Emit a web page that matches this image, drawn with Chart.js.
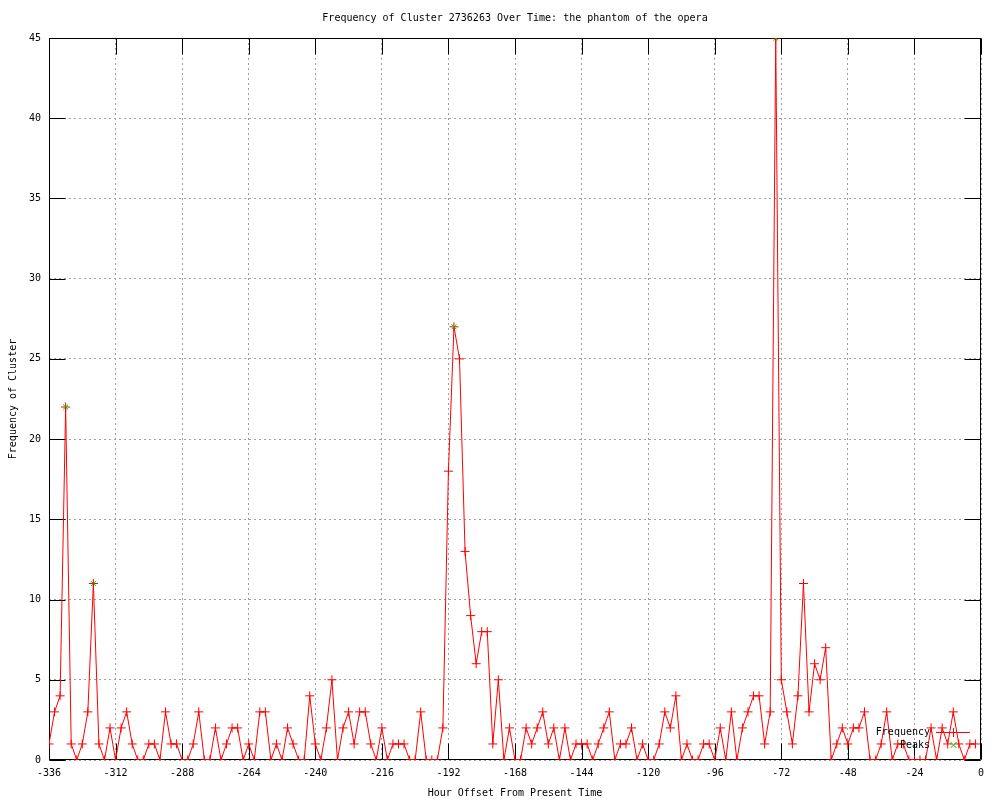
<!DOCTYPE html>
<html>
<head>
<meta charset="utf-8">
<script src="https://cdn.jsdelivr.net/npm/chart.js@4.4.1/dist/chart.umd.min.js"></script>
<style>
html,body{margin:0;padding:0;background:#ffffff;}
canvas{display:block;}
</style>
</head>
<body>
<canvas id="c" width="1000" height="800" style="width:1000px;height:800px"></canvas>
<script>
const titleText = 'Frequency of Cluster 2736263 Over Time: the phantom of the opera';
const xAxisLabel = 'Hour Offset From Present Time';
const yAxisLabel = 'Frequency of Cluster';
const seriesNames = ['Frequency', 'Peaks'];

const hours = [
-336,-334,-332,-330,-328,-326,-324,-322,-320,-318,
-316,-314,-312,-310,-308,-306,-304,-302,-300,-298,
-296,-294,-292,-290,-288,-286,-284,-282,-280,-278,
-276,-274,-272,-270,-268,-266,-264,-262,-260,-258,
-256,-254,-252,-250,-248,-246,-244,-242,-240,-238,
-236,-234,-232,-230,-228,-226,-224,-222,-220,-218,
-216,-214,-212,-210,-208,-206,-204,-202,-200,-198,
-196,-194,-192,-190,-188,-186,-184,-182,-180,-178,
-176,-174,-172,-170,-168,-166,-164,-162,-160,-158,
-156,-154,-152,-150,-148,-146,-144,-142,-140,-138,
-136,-134,-132,-130,-128,-126,-124,-122,-120,-118,
-116,-114,-112,-110,-108,-106,-104,-102,-100,-98,
-96,-94,-92,-90,-88,-86,-84,-82,-80,-78,
-76,-74,-72,-70,-68,-66,-64,-62,-60,-58,
-56,-54,-52,-50,-48,-46,-44,-42,-40,-38,
-36,-34,-32,-30,-28,-26,-24,-22,-20,-18,
-16,-14,-12,-10,-8,-6,-4,-2
];

const frequency = [
1,3,4,22,1,0,1,3,11,1,
0,2,0,2,3,1,0,0,1,1,
0,3,1,1,0,0,1,3,0,0,
2,0,1,2,2,0,1,0,3,3,
0,1,0,2,1,0,0,4,1,0,
2,5,0,2,3,1,3,3,1,0,
2,0,1,1,1,0,0,3,0,0,
0,2,18,27,25,13,9,6,8,8,
1,5,0,2,0,0,2,1,2,3,
1,2,0,2,0,1,1,1,0,1,
2,3,0,1,1,2,0,1,0,0,
1,3,2,4,0,1,0,0,1,1,
0,2,0,3,0,2,3,4,4,1,
3,45,5,3,1,4,11,3,6,5,
7,0,1,2,1,2,2,3,0,0,
1,3,0,1,1,0,0,0,0,2,
0,2,1,3,1,0,1,1
];

const peakHours = [-330, -320, -190, -74];
const peakValues = [22, 11, 27, 45];

const xTickStep = 24;
const yTickStep = 5;

const FONT = "'DejaVu Sans Mono', 'Liberation Mono', monospace";
const RED = '#ff0000';
const GREEN = '#00c000';

const decor = {
  id: 'decor',
  beforeDatasetsDraw(chart) {
    const {ctx, chartArea: a, scales: {x, y}} = chart;
    const L = Math.round(a.left) + 0.5, R = Math.round(a.right) - 0.5;
    const T = Math.round(a.top) + 0.5, B = Math.round(a.bottom) - 0.5;
    ctx.save();
    ctx.strokeStyle = '#000';
    ctx.lineWidth = 1;
    ctx.setLineDash([]);
    ctx.beginPath();
    ctx.rect(L, T, R - L, B - T);
    const tl = 16;
    x.ticks.forEach(t => {
      const px = Math.round(x.getPixelForValue(t.value)) + 0.5;
      ctx.moveTo(px, B); ctx.lineTo(px, B - tl);
      ctx.moveTo(px, T); ctx.lineTo(px, T + tl);
    });
    y.ticks.forEach(t => {
      const py = Math.round(y.getPixelForValue(t.value)) + 0.5;
      ctx.moveTo(L, py); ctx.lineTo(L + tl, py);
      ctx.moveTo(R, py); ctx.lineTo(R - tl, py);
    });
    ctx.stroke();
    ctx.restore();
  },
  afterDraw(chart) {
    const {ctx, chartArea: a} = chart;
    ctx.save();
    ctx.fillStyle = '#000';
    ctx.font = '10px ' + FONT;
    ctx.textBaseline = 'middle';
    ctx.textAlign = 'center';
    const cx = (a.left + a.right) / 2;
    ctx.fillText(titleText, cx, 18);
    ctx.fillText(xAxisLabel, cx, 793);
    ctx.save();
    ctx.translate(13, (a.top + a.bottom) / 2);
    ctx.rotate(-Math.PI / 2);
    ctx.fillText(yAxisLabel, 0, 0);
    ctx.restore();
    // key
    ctx.textAlign = 'right';
    ctx.fillText(seriesNames[0], 930, 732);
    ctx.fillText(seriesNames[1], 930, 745);
    ctx.strokeStyle = RED;
    ctx.lineWidth = 1;
    ctx.beginPath();
    ctx.moveTo(936, 732.5); ctx.lineTo(970, 732.5);
    ctx.moveTo(953.5, 728); ctx.lineTo(953.5, 737);
    ctx.moveTo(949, 732.5); ctx.lineTo(958, 732.5);
    ctx.stroke();
    ctx.strokeStyle = GREEN;
    ctx.beginPath();
    ctx.moveTo(950.5, 742); ctx.lineTo(956.5, 748);
    ctx.moveTo(956.5, 742); ctx.lineTo(950.5, 748);
    ctx.stroke();
    ctx.restore();
  }
};

new Chart(document.getElementById('c'), {
  type: 'line',
  data: {
    datasets: [
      {
        label: seriesNames[0],
        data: hours.map((h, i) => ({x: h, y: frequency[i]})),
        borderColor: RED,
        backgroundColor: RED,
        borderWidth: 1,
        tension: 0,
        fill: false,
        pointStyle: 'cross',
        pointRadius: 4.5,
        pointBorderColor: RED,
        pointBorderWidth: 1,
        order: 2
      },
      {
        label: seriesNames[1],
        data: peakHours.map((h, i) => ({x: h, y: peakValues[i]})),
        showLine: false,
        borderColor: GREEN,
        backgroundColor: GREEN,
        pointStyle: 'crossRot',
        pointRadius: 3.5,
        pointBorderColor: GREEN,
        pointBorderWidth: 1,
        order: 1
      }
    ]
  },
  options: {
    responsive: false,
    animation: false,
    devicePixelRatio: 1,
    layout: {padding: {top: 38, right: 19, left: 0, bottom: 0}},
    plugins: {
      legend: {display: false},
      title: {display: false},
      tooltip: {enabled: false}
    },
    scales: {
      x: {
        type: 'linear',
        min: -336,
        max: 0,
        ticks: {
          stepSize: xTickStep,
          color: '#000',
          font: {family: FONT, size: 10},
          padding: 7,
          maxRotation: 0,
          autoSkip: false
        },
        grid: {color: '#a0a0a0', lineWidth: 1, drawTicks: false},
        border: {display: false, dash: [2, 3]},
        afterFit(s) { s.height = 40; }
      },
      y: {
        type: 'linear',
        min: 0,
        max: 45,
        ticks: {
          stepSize: yTickStep,
          color: '#000',
          font: {family: FONT, size: 10},
          padding: 8
        },
        grid: {color: '#a0a0a0', lineWidth: 1, drawTicks: false},
        border: {display: false, dash: [2, 3]},
        afterFit(s) { s.width = 49; }
      }
    }
  },
  plugins: [decor]
});
</script>
</body>
</html>
